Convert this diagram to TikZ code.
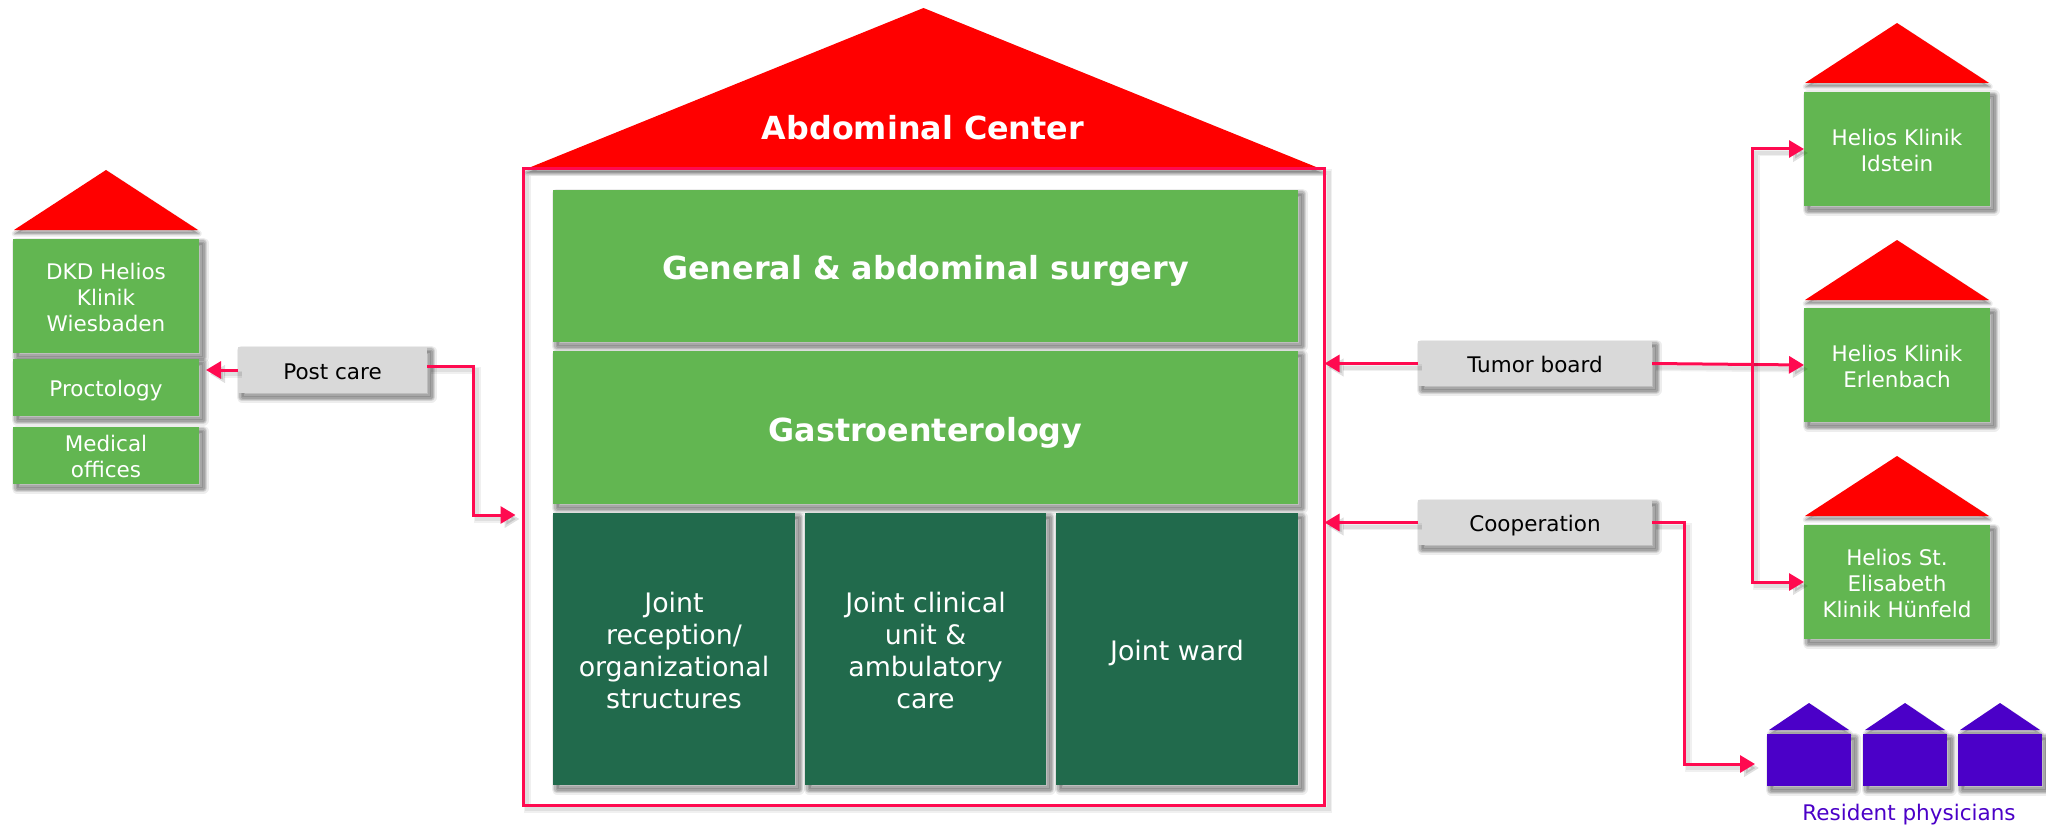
\documentclass[tikz,border=0pt]{standalone}
\usepackage{fontspec}
\setmainfont{DejaVu Sans}
\usetikzlibrary{arrows.meta}
\definecolor{grn}{HTML}{62B651}
\definecolor{dgrn}{HTML}{216A4C}
\definecolor{lgr}{HTML}{D9D9D9}
\definecolor{conred}{HTML}{FF0A50}
\definecolor{pur}{HTML}{4B00C8}
\tikzset{
  softshadow/.style={
    preaction={draw=black,line width=5.5pt,line join=round,opacity=.07,transform canvas={shift={(2pt,-2pt)}}},
    preaction={draw=black,line width=4.2pt,line join=round,opacity=.10,transform canvas={shift={(2pt,-2pt)}}},
    preaction={draw=black,line width=3pt,line join=round,opacity=.12,transform canvas={shift={(2pt,-2pt)}}},
    preaction={draw=black,line width=1.5pt,line join=round,opacity=.12,transform canvas={shift={(2pt,-2pt)}}},
    preaction={fill=black,opacity=.10,transform canvas={shift={(2pt,-2pt)}}}},
  roofshadow/.style={
    preaction={draw=black,line width=3pt,line join=round,opacity=.07,transform canvas={shift={(.4pt,-1.8pt)}}},
    preaction={draw=black,line width=1.6pt,line join=round,opacity=.12,transform canvas={shift={(.4pt,-1.8pt)}}},
    preaction={fill=black,opacity=.22,transform canvas={shift={(.4pt,-1.8pt)}}}},
  lineshadow/.style={
    preaction={draw=black,line width=3.5pt,opacity=.06,transform canvas={shift={(2pt,-2pt)}}},
    preaction={draw=black,line width=2pt,opacity=.07,transform canvas={shift={(2pt,-2pt)}}}},
  pxbox/.style={rectangle,inner sep=0pt,outer sep=0pt,align=center},
  greenbox/.style={pxbox,fill=grn,text=white,softshadow,font=\fontsize{10.75}{13}\selectfont,execute at begin node={\def\pxdrop{-4.8pt}}},
  bigbox/.style={pxbox,fill=grn,text=white,softshadow,font=\fontsize{15.9}{19}\selectfont\bfseries,execute at begin node={\def\pxdrop{-7.5pt}}},
  darkbox/.style={pxbox,fill=dgrn,text=white,softshadow,font=\fontsize{13.4}{16}\selectfont,execute at begin node={\def\pxdrop{-6pt}}},
  labelbox/.style={pxbox,fill=lgr,text=black,softshadow,font=\fontsize{10.75}{13}\selectfont,execute at begin node={\def\pxdrop{-4.8pt}}},
  purplebox/.style={pxbox,fill=pur,softshadow,execute at begin node={\def\pxdrop{0pt}}},
  framebox/.style={pxbox,draw=conred,line width=1.5pt,lineshadow,execute at begin node={\def\pxdrop{0pt}}},
  conn/.style={draw=conred,line width=1.5pt,lineshadow,-{Triangle[length=7.5pt,width=8.5pt]}},
  redroof/.style={fill=red,roofshadow},
  purroof/.style={fill=pur,roofshadow},
}
\newcommand{\pxnode}[7]{\node[#1,minimum width={(#5-#3)*0.5pt},minimum height={(#6-#4)*0.5pt}] (#2) at ({(#3+#5)/2},{(#4+#6)/2}) {\raisebox{\pxdrop}[0pt][0pt]{\begin{tabular}{@{}c@{}}#7\end{tabular}}};}
\newcommand{\roof}[5]{\path[#1] (#2,#5) -- (#3,#4) -- ({2*#3-#2},#5) -- cycle;}
\begin{document}
\begin{tikzpicture}[x=.5pt,y=-.5pt]
\useasboundingbox (0,0) rectangle (2046,829);
\fill[white] (0,0) rectangle (2046,829);
% main house
\roof{redroof}{526}{923.5}{8}{169}
\pxnode{framebox}{frame}{523}{169}{1324.5}{805}{}
\node[text=white,font=\fontsize{15.9}{19}\selectfont\bfseries] (title) at (923,128) {Abdominal Center};
\pxnode{bigbox}{surgery}{553}{190}{1298}{342}{General \& abdominal surgery}
\pxnode{bigbox}{gastro}{553}{351}{1298}{504}{Gastroenterology}
\pxnode{darkbox}{reception}{553}{513}{795}{785}{Joint\\reception/\\organizational\\structures}
\pxnode{darkbox}{clinical}{805}{513}{1046}{785}{Joint clinical\\unit \&\\ambulatory\\care}
\pxnode{darkbox}{ward}{1056}{513}{1298}{785}{Joint ward}
% left house
\roof{redroof}{14}{106}{170}{230}
\pxnode{greenbox}{dkd}{13}{239}{199}{353}{DKD Helios\\Klinik\\Wiesbaden}
\pxnode{greenbox}{proct}{13}{359}{199}{416}{Proctology}
\pxnode{greenbox}{medical}{13}{427}{199}{484}{Medical\\offices}
% right houses
\roof{redroof}{1805}{1897}{23}{83}
\pxnode{greenbox}{idstein}{1804}{92}{1990}{206}{Helios Klinik\\Idstein}
\roof{redroof}{1805}{1897}{240}{300}
\pxnode{greenbox}{erlenbach}{1804}{308}{1990}{422}{Helios Klinik\\Erlenbach}
\roof{redroof}{1805}{1897}{456}{516}
\pxnode{greenbox}{elisabeth}{1804}{525}{1990}{639}{Helios St.\\Elisabeth\\Klinik Hünfeld}
% resident physicians
\roof{purroof}{1769}{1809}{703}{730}
\pxnode{purplebox}{resa}{1767}{734}{1851}{786}{}
\roof{purroof}{1865}{1905}{703}{730}
\pxnode{purplebox}{resb}{1863}{734}{1947}{786}{}
\roof{purroof}{1960}{2000}{703}{730}
\pxnode{purplebox}{resc}{1958}{734}{2042}{786}{}
\node[text=pur,font=\fontsize{10.75}{13}\selectfont] (restext) at (1909,815) {Resident physicians};
% label boxes
\pxnode{labelbox}{post}{238}{347}{427}{393}{Post care}
\pxnode{labelbox}{tumor}{1418}{341}{1652}{386}{Tumor board}
\pxnode{labelbox}{coop}{1418}{500}{1652}{545}{Cooperation}
% connectors
\coordinate (bus) at (1752,365);
\coordinate (postbend) at (473,515);
\coordinate (coopbend) at (1684,764);
\coordinate (restip) at (1755,764);
\draw[conn] (post.west) -- ([xshift=3.5pt]proct.east |- post.west);
\draw[conn] (post.east |- 0,366) -| (postbend) -- ([xshift=-3.75pt]frame.west |- postbend);
\draw[conn] (tumor.west) -- (frame.east |- tumor.west);
\draw[conn] (coop.west) -- (frame.east |- coop.west);
\draw[conn] (tumor.east) -- (erlenbach.west);
\draw[conn] (bus) |- (idstein.west);
\draw[conn] (bus) |- (elisabeth.west);
\draw[conn] (coop.east) -| (coopbend) -- (restip);
\end{tikzpicture}
\end{document}
